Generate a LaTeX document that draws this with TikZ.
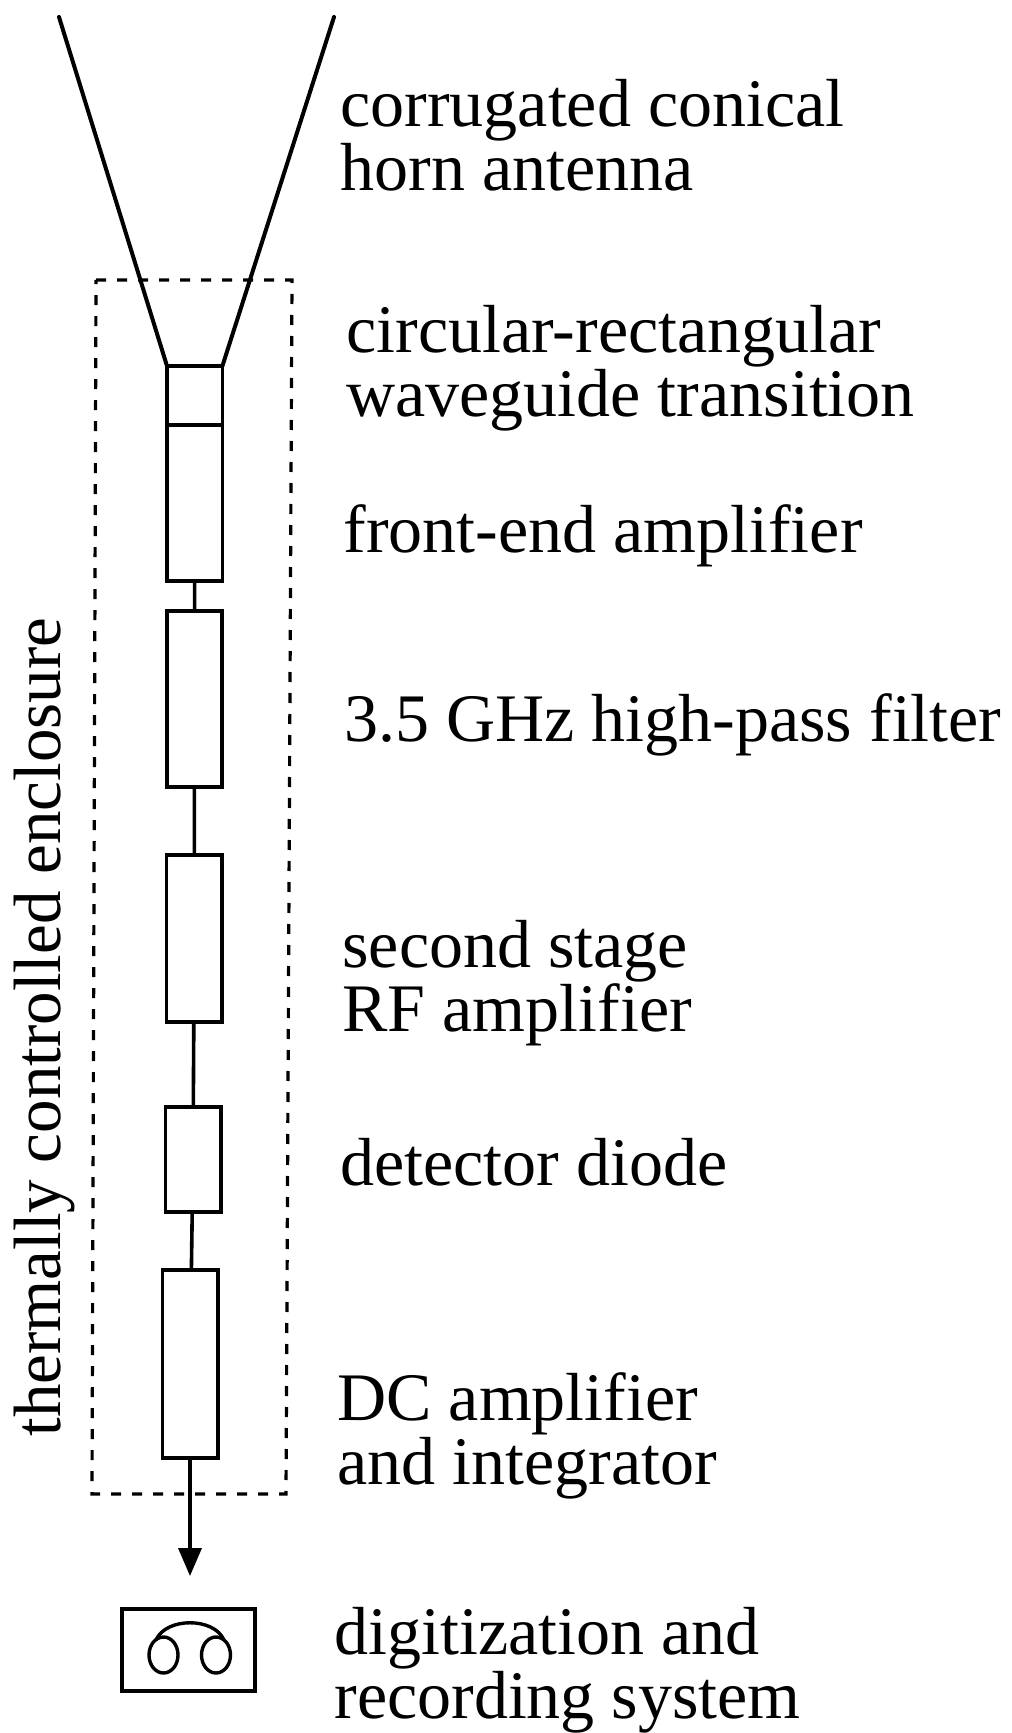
\documentclass[tikz,border=0pt]{standalone}
\usepackage{fontspec}
\setmainfont{Liberation Serif}
\usetikzlibrary{arrows.meta}
\tikzset{
  blockbox/.style={draw,line width=1.8pt,inner sep=0pt,outer sep=0pt,minimum width=27.7pt},
  caption/.style={anchor=west,inner sep=0pt,align=left,font=\fontsize{34}{32}\selectfont},
}
\begin{document}
\begin{tikzpicture}[x=0.5pt,y=-0.5pt]
      \useasboundingbox (0,0) rectangle (1011,1733);
      \node[blockbox,minimum height=29.5pt] (transition) at (194.7,395.5) {};
      \node[blockbox,minimum height=78pt] (front) at (194.7,503) {};
      \node[blockbox,minimum height=88pt] (filter) at (194.5,699) {};
      \node[blockbox,minimum height=83.5pt] (second) at (194.3,938.5) {};
      \node[blockbox,minimum height=52.5pt] (diode) at (193,1159.5) {};
      \node[blockbox,minimum height=94pt] (dc) at (190,1364) {};
      \node[blockbox,line width=2.2pt,minimum width=66.5pt,minimum height=41pt] (recorder) at (188.5,1650) {};
      \coordinate (hornleft) at (59,17);
      \coordinate (hornright) at (334,17);
      \coordinate (encnw) at (96,280);
      \coordinate (encne) at (292,280);
      \coordinate (encse) at (286,1494);
      \coordinate (encsw) at (92,1494);
      \coordinate (reelleft) at (156,1640);
      \coordinate (reelright) at (224,1640);
      \begin{scope}[line width=1.8pt]
        \draw[line width=2pt,line cap=round] (hornleft) to (transition.north west);
        \draw[line width=2pt,line cap=round] (hornright) to (transition.north east);
        \draw (front) to (filter);
        \draw (filter) to (second);
        \draw (second) to (diode);
        \draw (diode) to (dc);
      \end{scope}
      \draw[line width=1.6pt,dash pattern=on 5pt off 5.5pt] (encnw) -- (encne) -- (encse) -- (encsw) -- cycle;
      \draw[line width=1.8pt,-{Triangle[length=14pt,width=11.5pt]}] (dc.south) -- ++(0,118);
      \draw[line width=1.7pt] (163.5,1655) ellipse (14.5 and 18);
      \draw[line width=1.7pt] (216,1655) ellipse (14.5 and 18);
      \draw[line width=1.7pt] (reelleft) .. controls (166,1617) and (214,1617) .. (reelright);
      \node[caption] (horn) at (340,135) {corrugated conical\\horn antenna};
      \node[caption] (circ) at (346,368) {circular-rectangular\\waveguide transition};
      \node[caption] (fea) at (343,536) {front-end amplifier};
      \node[caption] (hpf) at (344,725) {3.5 GHz high-pass filter};
      \node[caption] (rf) at (342,983) {second stage\\RF amplifier};
      \node[caption] (det) at (340,1162) {detector diode};
      \node[caption] (dci) at (337,1436) {DC amplifier\\and integrator};
      \node[caption] (rec) at (334,1670) {digitization and\\recording system};
      \node[anchor=base west,inner sep=0pt,rotate=90,font=\fontsize{33.5}{32}\selectfont] (enc) at (60,1437) {thermally controlled enclosure};
    \end{tikzpicture}
\end{document}
